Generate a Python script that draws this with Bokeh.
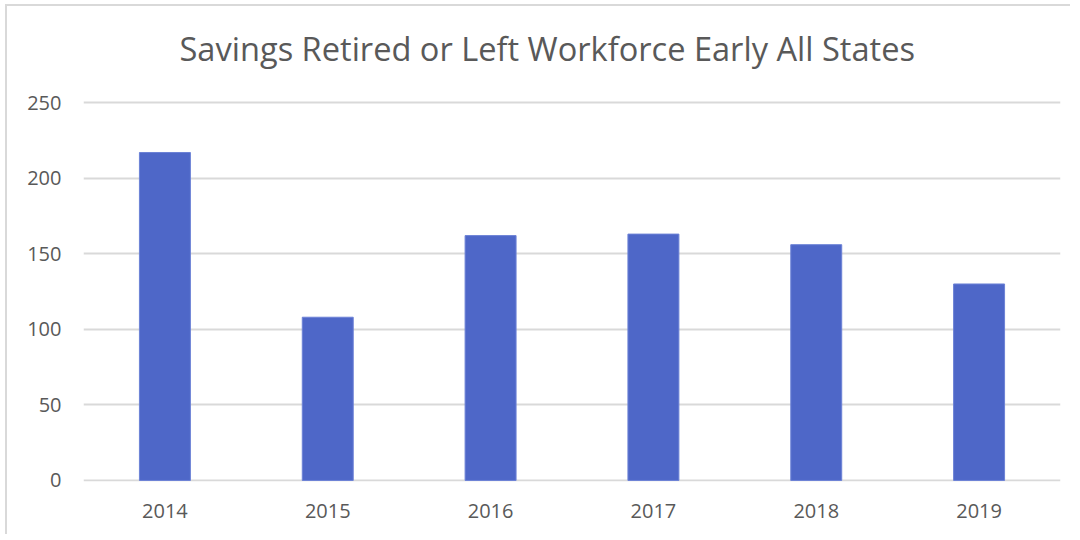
from bokeh.plotting import figure
from bokeh.models import Range1d, FixedTicker, Title
from bokeh.embed import file_html
from bokeh.resources import INLINE

title_text = "Savings Retired or Left Workforce Early All States"
years = ["2014", "2015", "2016", "2017", "2018", "2019"]
values = [217, 108, 162, 163, 156, 130]
y_ticks = [0, 50, 100, 150, 200, 250]

TEXT = "#595959"
GRID = "#D9D9D9"
BAR = "#4E67C8"

p = figure(x_range=years, y_range=Range1d(-0.7, 260), width=1065, height=530,
           output_backend="svg", toolbar_location=None,
           min_border_left=76, min_border_right=12, min_border_bottom=55, min_border_top=10,
           styles={"margin-left": "5px", "margin-top": "4px",
                   "border-left": "2px solid #D9D9D9", "border-top": "2px solid #D9D9D9"})
p.title = None
t = Title(text=title_text, align="left",
          offset=96, text_font="Open Sans", text_font_size="32.6px", text_color=TEXT,
          text_font_style="normal", standoff=34)
p.add_layout(t, "above")

p.vbar(x=years, top=values, width=0.313, fill_color=BAR, line_color="#6C82D6", line_width=1)

p.outline_line_color = None
p.background_fill_color = "white"
p.border_fill_color = "white"

p.xgrid.grid_line_color = None
p.ygrid.grid_line_color = GRID
p.ygrid.grid_line_width = 2
p.yaxis.ticker = FixedTicker(ticks=y_ticks)

for ax in (p.xaxis, p.yaxis):
    ax.axis_line_color = None
    ax.major_tick_line_color = None
    ax.minor_tick_line_color = None
    ax.major_tick_out = 0
    ax.major_tick_in = 0
    ax.minor_tick_out = 0
    ax.minor_tick_in = 0
    ax.major_label_text_font = "Open Sans"
    ax.major_label_text_font_size = "20px"
    ax.major_label_text_color = TEXT

p.yaxis.major_label_standoff = 22
p.xaxis.major_label_standoff = 22

open("out.html", "w").write(file_html(p, INLINE))
